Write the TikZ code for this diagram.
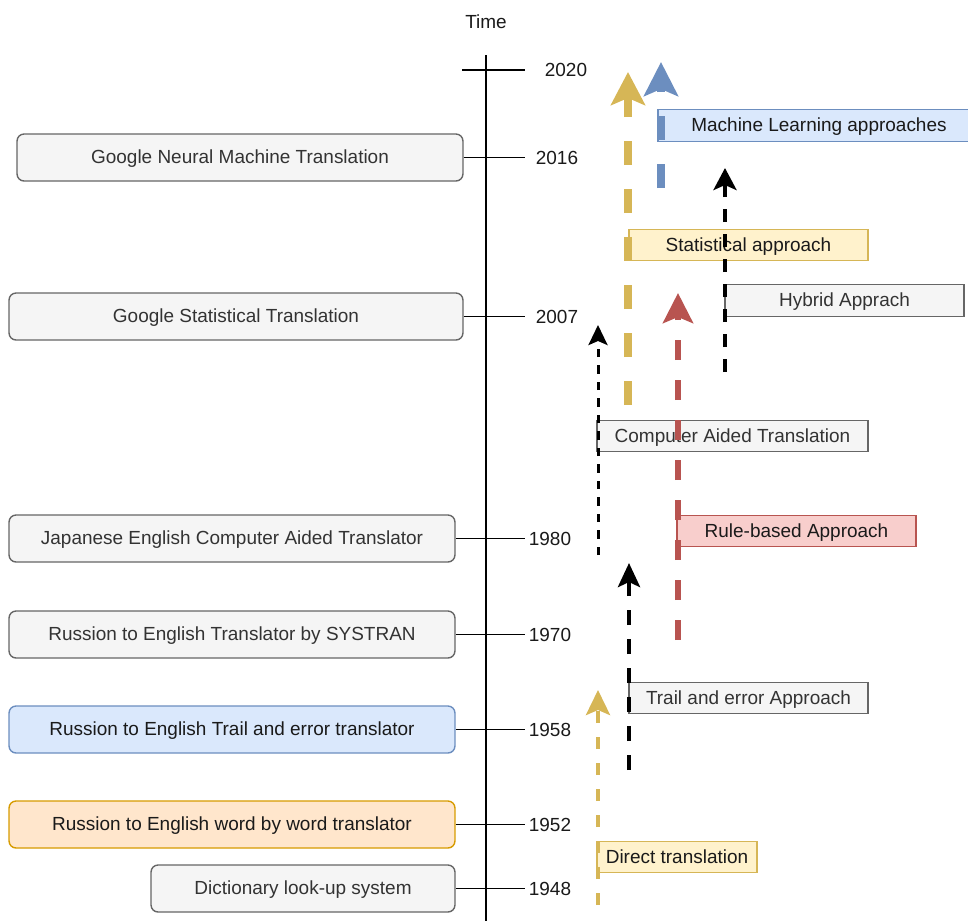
\documentclass[tikz,border=0pt]{standalone}
\usepackage{fontspec}
\setmainfont{Liberation Sans}
\usetikzlibrary{arrows.meta}
\definecolor{grayfill}{HTML}{F5F5F5}
\definecolor{grayline}{HTML}{666666}
\definecolor{graytext}{HTML}{333333}
\definecolor{bluefill}{HTML}{DAE8FC}
\definecolor{blueline}{HTML}{6C8EBF}
\definecolor{orangefill}{HTML}{FFE6CC}
\definecolor{orangeline}{HTML}{D79B00}
\definecolor{yellowfill}{HTML}{FFF2CC}
\definecolor{yellowline}{HTML}{D6B656}
\definecolor{redfill}{HTML}{F8CECC}
\definecolor{redline}{HTML}{B85450}
\definecolor{ink}{HTML}{1A1A1A}
\tikzset{
  event/.style={draw=grayline, fill=grayfill, text=graytext, rounded corners=0.14cm,
    line width=0.8pt, minimum height=0.94cm, inner sep=0pt,
    text height=0.86em, text depth=0.14em},
  bluebox/.style={draw=blueline, fill=bluefill, text=ink},
  orangebox/.style={draw=orangeline, fill=orangefill, text=ink},
  tag/.style={draw=grayline, fill=grayfill, text=graytext, line width=0.8pt,
    minimum height=0.63cm, inner sep=0pt,
    text height=0.86em, text depth=0.14em},
  yellowtag/.style={draw=yellowline, fill=yellowfill, text=ink},
  redtag/.style={draw=redline, fill=redfill, text=ink},
  bluetag/.style={draw=blueline, fill=bluefill, text=ink},
  year/.style={text=ink, inner sep=0pt},
  tick/.style={line width=1pt, draw=black},
  flow/.style={line cap=butt},
}
\begin{document}
\begin{tikzpicture}[x=0.02cm, y=-0.02cm, font=\fontsize{10.8}{13}\selectfont]
\useasboundingbox (0,0) rectangle (968,921);

% time axis
\coordinate (axtop) at (486,55);
\coordinate (axbot) at (486,921);
\draw[tick] (axtop) -- (axbot);
\node[year] (time) at (486,22) {Time};

% year ticks and labels
\coordinate (t20a) at (462,70);
\coordinate (t20b) at (525,70);
\draw[tick] (t20a) -- (t20b);
\node[year] (y2020) at (566,70) {2020};

% milestones on the left
\node[event, minimum width=8.92cm] (gnmt) at (240,157.5) {Google Neural Machine Translation};
\node[event, minimum width=9.08cm] (gst) at (236,316.5) {Google Statistical Translation};
\node[event, minimum width=8.92cm] (jecat) at (232,538.5) {Japanese English Computer Aided Translator};
\node[event, minimum width=8.92cm] (systran) at (232,634.5) {Russion to English Translator by SYSTRAN};
\node[event, bluebox, minimum width=8.92cm] (trail) at (232,729.5) {Russion to English Trail and error translator};
\node[event, orangebox, minimum width=8.92cm] (wbw) at (232,824.5) {Russion to English word by word translator};
\node[event, minimum width=6.08cm] (dict) at (303,888.5) {Dictionary look-up system};

\coordinate (t16) at (525,157.5);
\coordinate (t07) at (525,316.5);
\coordinate (t80) at (525,538.5);
\coordinate (t70) at (525,634.5);
\coordinate (t58) at (525,729.5);
\coordinate (t52) at (525,824.5);
\coordinate (t48) at (525,888.5);
\draw[tick] (gnmt.east) -- (t16);
\draw[tick] (gst.east) -- (t07);
\draw[tick] (jecat.east) -- (t80);
\draw[tick] (systran.east) -- (t70);
\draw[tick] (trail.east) -- (t58);
\draw[tick] (wbw.east) -- (t52);
\draw[tick] (dict.east) -- (t48);
\node[year] (y2016) at (557,157.5) {2016};
\node[year] (y2007) at (557,316.5) {2007};
\node[year] (y1980) at (550,538.5) {1980};
\node[year] (y1970) at (550,634.5) {1970};
\node[year] (y1958) at (550,729.5) {1958};
\node[year] (y1952) at (550,824.5) {1952};
\node[year] (y1948) at (550,888.5) {1948};

% approach labels
\node[tag, bluetag, minimum width=6.44cm] (ml) at (819,125.5) {Machine Learning approaches};
\node[tag, yellowtag, minimum width=4.78cm] (stat) at (748.5,245) {Statistical approach};
\node[tag, minimum width=4.78cm] (hyb) at (844.5,300.5) {Hybrid Apprach};
\node[tag, minimum width=5.42cm] (cat) at (732.5,436) {Computer Aided Translation};
\node[tag, redtag, minimum width=4.78cm] (rule) at (796.5,531) {Rule-based Approach};
\node[tag, minimum width=4.78cm] (tae) at (748.5,698) {Trail and error Approach};
\node[tag, yellowtag, minimum width=3.2cm] (dir) at (677,857) {Direct translation};

% approach arrows
\coordinate (a1s) at (628,405);  \coordinate (a1e) at (628,72);
\coordinate (a2s) at (661,188);  \coordinate (a2e) at (661,62);
\coordinate (a3s) at (725,372);  \coordinate (a3e) at (725,168);
\coordinate (a4s) at (678,640);  \coordinate (a4e) at (678,293);
\coordinate (a5s) at (598,555);  \coordinate (a5e) at (598,325);
\coordinate (a6s) at (629,770);  \coordinate (a6e) at (629,563);
\coordinate (a7s) at (598,905);  \coordinate (a7e) at (598,690);

\draw[flow, draw=yellowline, line width=0.16cm, dash pattern=on 0.48cm off 0.48cm,
  -{Stealth[length=0.66cm, width=0.68cm, inset=0.14cm, fill=yellowline]}] (a1s) -- (a1e);
\draw[flow, draw=blueline, line width=0.16cm, dash pattern=on 0.48cm off 0.48cm,
  -{Stealth[length=0.68cm, width=0.68cm, inset=0.14cm, fill=blueline]}] (a2s) -- (a2e);
\draw[flow, draw=black, line width=0.08cm, dash pattern=on 0.26cm off 0.24cm,
  -{Stealth[length=0.44cm, width=0.46cm, inset=0.1cm]}] (a3s) -- (a3e);
\draw[flow, draw=redline, line width=0.12cm, dash pattern=on 0.4cm off 0.4cm,
  -{Stealth[length=0.6cm, width=0.6cm, inset=0.12cm, fill=redline]}] (a4s) -- (a4e);
\draw[flow, draw=black, line width=0.06cm, dash pattern=on 0.17cm off 0.16cm,
  -{Stealth[length=0.4cm, width=0.38cm, inset=0.08cm]}] (a5s) -- (a5e);
\draw[flow, draw=black, line width=0.09cm, dash pattern=on 0.3cm off 0.28cm,
  -{Stealth[length=0.48cm, width=0.44cm, inset=0.1cm]}] (a6s) -- (a6e);
\draw[flow, draw=yellowline, line width=0.08cm, dash pattern=on 0.24cm off 0.28cm,
  -{Stealth[length=0.5cm, width=0.48cm, inset=0.1cm, fill=yellowline]}] (a7s) -- (a7e);
\end{tikzpicture}
\end{document}
